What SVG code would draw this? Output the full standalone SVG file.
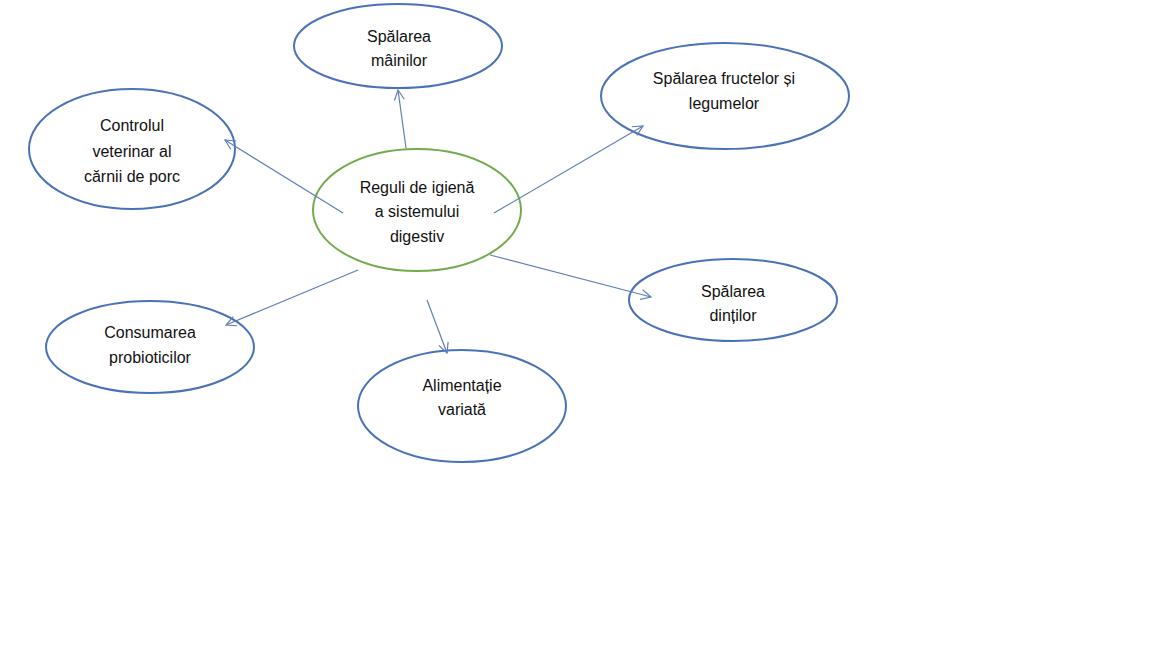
<svg xmlns="http://www.w3.org/2000/svg" width="1152" height="648" viewBox="0 0 1152 648">
<style>
.n{fill:#fff;stroke:#4A72B8;stroke-width:2}
.c{fill:#fff;stroke:#72AB4C;stroke-width:2}
.t{font-family:"Liberation Sans",Arial,sans-serif;font-size:16px;fill:#111;text-anchor:middle}
.l{stroke:#5F7FB8;stroke-width:1.2;fill:none;marker-end:url(#a)}
</style>
<defs>
<marker id="a" viewBox="0 0 12 12" refX="11" refY="6" markerWidth="12" markerHeight="12" markerUnits="userSpaceOnUse" orient="auto">
<path d="M1,1 L11,6 L1,11" fill="none" stroke="#5F7FB8" stroke-width="1.2"/>
</marker>
</defs>
<rect width="1152" height="648" fill="#fff"/>
<g id="n-maini"><ellipse class="n" cx="398" cy="46" rx="104" ry="42"/><text class="t" x="399" y="42">Spălarea</text><text class="t" x="399" y="66">mâinilor</text></g>
<g id="n-fructe"><ellipse class="n" cx="725" cy="96" rx="124" ry="53"/><text class="t" x="724" y="84">Spălarea fructelor și</text><text class="t" x="724" y="109">legumelor</text></g>
<g id="n-control"><ellipse class="n" cx="132" cy="149" rx="103" ry="60"/><text class="t" x="132" y="131">Controlul</text><text class="t" x="132" y="157">veterinar al</text><text class="t" x="132" y="182">cărnii de porc</text></g>
<g id="n-dinti"><ellipse class="n" cx="733" cy="300" rx="104" ry="41"/><text class="t" x="733" y="297">Spălarea</text><text class="t" x="733" y="321">dinților</text></g>
<g id="n-probiotice"><ellipse class="n" cx="150" cy="347" rx="104" ry="46"/><text class="t" x="150" y="338">Consumarea</text><text class="t" x="150" y="363">probioticilor</text></g>
<g id="n-alimentatie"><ellipse class="n" cx="462" cy="406" rx="104" ry="56"/><text class="t" x="462" y="391">Alimentație</text><text class="t" x="462" y="415">variată</text></g>
<g id="n-center"><ellipse class="c" cx="417" cy="210" rx="104" ry="61"/><text class="t" x="417" y="193">Reguli de igienă</text><text class="t" x="417" y="217">a sistemului</text><text class="t" x="417" y="242">digestiv</text></g>
<g id="connectors">
<line class="l" x1="406" y1="148" x2="398" y2="90"/>
<line class="l" x1="343" y1="213" x2="225" y2="140"/>
<line class="l" x1="494" y1="213" x2="643" y2="126"/>
<line class="l" x1="490" y1="255" x2="651" y2="297"/>
<line class="l" x1="358" y1="270" x2="226" y2="325"/>
<line class="l" x1="427" y1="300" x2="447" y2="353"/>
</g>
</svg>
